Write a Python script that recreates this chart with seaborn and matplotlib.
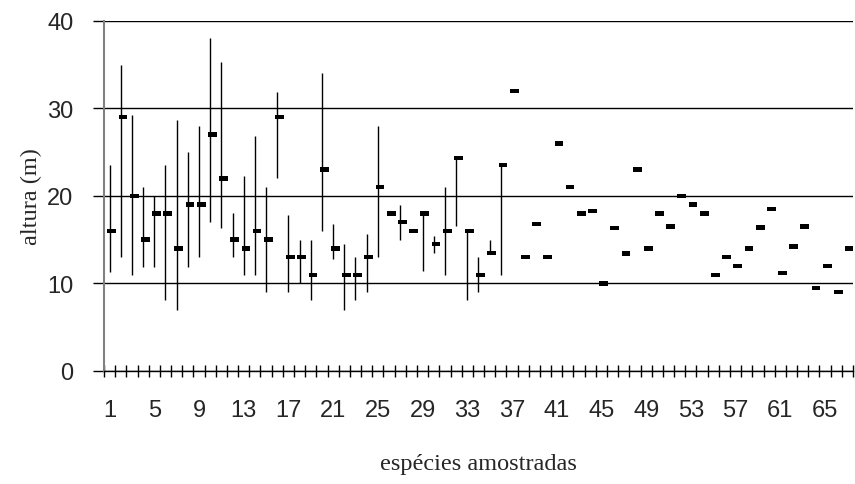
import numpy as np
import pandas as pd
import matplotlib
matplotlib.use("Agg")
import matplotlib.pyplot as plt
import seaborn as sns

# species number 1..67
especies = list(range(1, 68))

# mean height (m)
altura_media = [
    16.0, 29.0, 20.0, 15.0, 18.0, 18.0, 14.0, 19.0, 19.0, 27.0,
    22.0, 15.0, 14.0, 16.0, 15.0, 29.0, 13.0, 13.0, 11.0, 23.0,
    14.0, 11.0, 11.0, 13.0, 21.0, 18.0, 17.0, 16.0, 18.0, 14.5,
    16.0, 24.3, 16.0, 11.0, 13.5, 23.5, 32.0, 13.0, 16.8, 13.0,
    26.0, 21.0, 18.0, 18.3, 10.0, 16.3, 13.4, 23.0, 14.0, 18.0,
    16.5, 20.0, 19.0, 18.0, 11.0, 13.0, 12.0, 14.0, 16.4, 18.5,
    11.2, 14.2, 16.5, 9.5, 12.0, 9.0, 14.0,
]

# min / max height (NaN where there is no range)
altura_min = [
    11.3, 13.0, 11.0, 11.9, 11.9, 8.1, 7.0, 11.9, 13.0, 17.0,
    16.3, 13.0, 11.0, 11.0, 9.0, 22.0, 9.0, 10.0, 8.1, 16.0,
    12.8, 7.0, 8.1, 9.0, 13.0, np.nan, 15.0, np.nan, 11.4, 13.5,
    11.0, 16.6, 8.1, 9.0, 13.5, 11.0,
] + [np.nan] * 31
altura_max = [
    23.5, 35.0, 29.2, 21.0, 20.0, 23.5, 28.7, 25.0, 28.0, 38.0,
    35.3, 18.0, 22.3, 26.9, 21.0, 31.9, 17.8, 15.0, 15.0, 34.0,
    16.8, 14.5, 13.0, 15.7, 28.0, np.nan, 19.0, np.nan, 18.0, 15.4,
    21.0, 24.3, 16.0, 13.0, 15.0, 23.5,
] + [np.nan] * 31

x_labels = [str(i) for i in range(1, 68, 4)]

df = pd.DataFrame({"especie": especies, "media": altura_media,
                   "min": altura_min, "max": altura_max})

sns.set_style("white")
plt.rcParams["font.family"] = ["Liberation Sans", "DejaVu Sans"]

fig = plt.figure(figsize=(8.55, 4.85), dpi=100)
ax = fig.add_axes([0.1216, 0.233, 0.876, 0.722])

# high-low lines
rng = df.dropna(subset=["min", "max"])
ax.vlines(rng["especie"], rng["min"], rng["max"], color="black", lw=1.0, zorder=2)

# mean marker: small bar shifted to the right of the line
bar = [(-2, -2), (6, -2), (6, 2), (-2, 2), (-2, -2)]
sns.scatterplot(data=df, x="especie", y="media", marker=bar, s=90,
                color="black", edgecolor="none", ax=ax, zorder=3, legend=False)

ax.set_xlim(0.5, 67.5)
ax.set_ylim(0, 40)
ax.set_yticks([0, 10, 20, 30, 40])
ax.yaxis.grid(True, color="black", lw=1.0)
ax.set_axisbelow(True)

ax.set_xticks(list(range(1, 68, 4)))
ax.set_xticklabels(x_labels)
ax.set_xticks(np.arange(0.5, 68, 1.0), minor=True)
ax.tick_params(axis="x", which="major", length=0, labelsize=17, pad=20)
ax.tick_params(axis="x", which="minor", direction="inout", length=8,
               width=1, color="black", bottom=True)
ax.tick_params(axis="y", direction="out", length=8, width=1, color="black",
               left=True, labelsize=17, pad=14)

for side in ["top", "right"]:
    ax.spines[side].set_visible(False)
ax.spines["left"].set_color("#808080")
ax.spines["left"].set_linewidth(1.5)
ax.spines["bottom"].set_color("black")
ax.spines["bottom"].set_linewidth(1.0)

ax.set_xlabel("espécies amostradas", family="Liberation Serif", fontsize=17.5,
              labelpad=23)
ax.set_ylabel("altura (m)", family="Liberation Serif", fontsize=17.5, labelpad=4)

fig.savefig("out.png", dpi=100)
